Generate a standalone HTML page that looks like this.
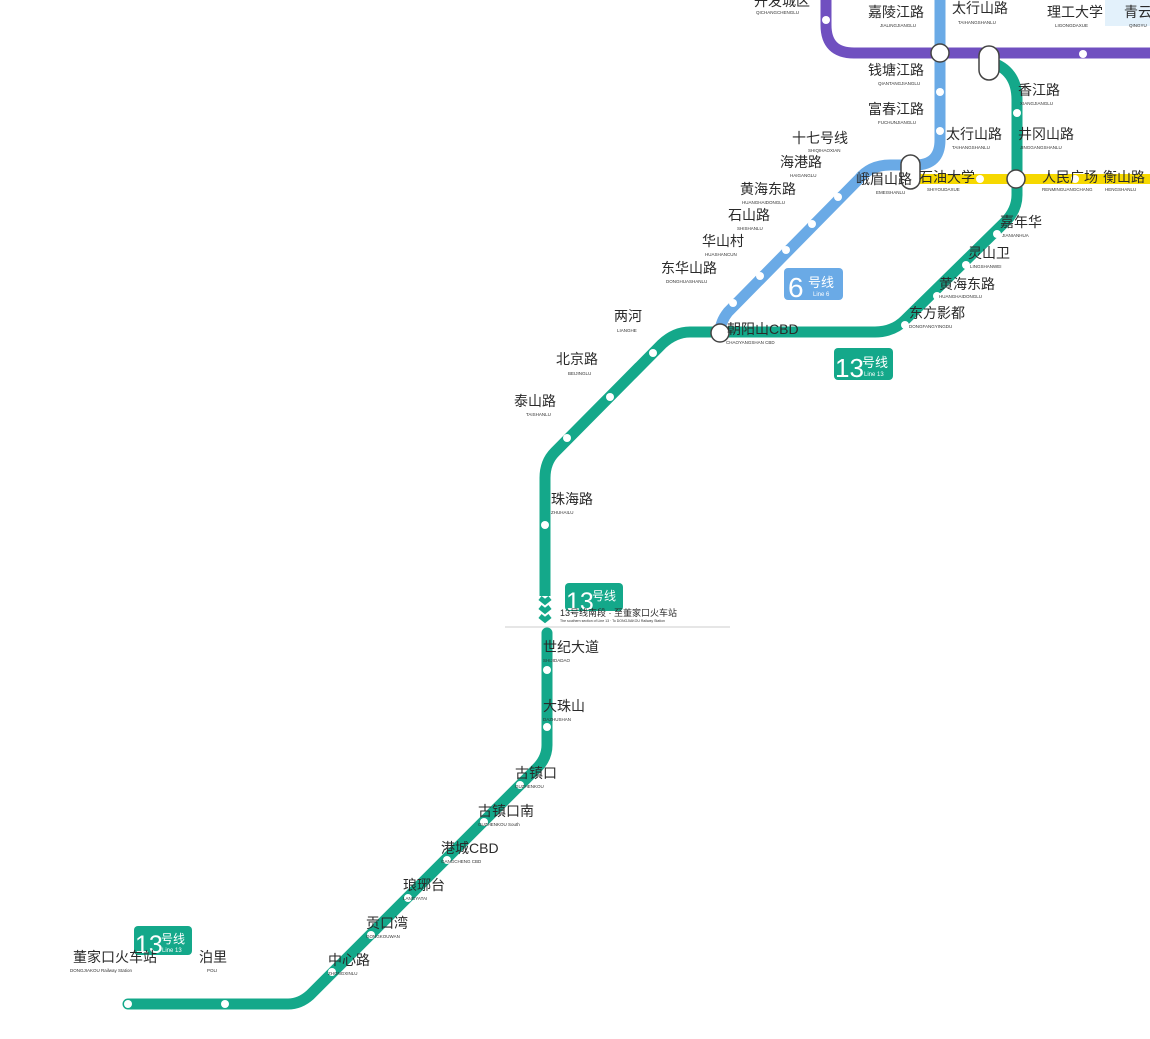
<!DOCTYPE html>
<html><head><meta charset="utf-8"><style>
html,body{margin:0;padding:0;background:#fff;width:1150px;height:1039px;overflow:hidden}
svg{display:block}
text{font-family:"Liberation Sans","Noto Sans CJK SC",sans-serif;fill:#2a2a2a}
.c{font-size:14px}
.p{font-size:4.5px;fill:#333}
.w{fill:#fff;stroke:none}
</style></head><body>
<svg width="1150" height="1039" viewBox="0 0 1150 1039" xmlns="http://www.w3.org/2000/svg">
<rect x="1105" y="0" width="45" height="26" fill="#e3f1fb"/>
<path d="M826 0 V25 Q826 53 854 53 H1150" stroke="#7050c0" stroke-width="11" fill="none"/>
<path d="M940 0 V140 Q940 165 915 165 H890 Q870 165 858 180 L728 312 Q720 322 720 333" stroke="#6aaae6" stroke-width="11" fill="none"/>
<path d="M912 179 H1150" stroke="#f6d800" stroke-width="10" fill="none"/>
<path d="M990 62 Q1017 70 1017 100 V195 Q1017 210 1005 222 L905 320 Q893 332 875 332 H690 Q675 332 662 344 L555 452 Q545 462 545 478 V596" stroke="#14a88a" stroke-width="11" fill="none"/>
<path d="M547 633 V745 Q547 758 537 768 L310 995 Q300 1004 288 1004 H128" stroke="#14a88a" stroke-width="11" fill="none" stroke-linecap="round"/>
<g stroke="#14a88a" stroke-width="5" fill="none">
<path d="M540 598 L545 602 L550 598"/><path d="M540 607 L545 611 L550 607"/><path d="M540 616 L545 620 L550 616"/>
</g>
<line x1="505" y1="627" x2="730" y2="627" stroke="#ccc" stroke-width="1"/>
<g class="w">
<circle cx="826" cy="20" r="4"/><circle cx="1083" cy="54" r="4"/>
<circle cx="940" cy="92" r="4"/><circle cx="940" cy="131" r="4"/>
<circle cx="838" cy="197" r="4"/><circle cx="812" cy="224" r="4"/><circle cx="786" cy="250" r="4"/><circle cx="760" cy="276" r="4"/><circle cx="733" cy="303" r="4"/>
<circle cx="980" cy="179" r="4"/><circle cx="1075" cy="179" r="4"/>
<circle cx="1017" cy="113" r="4"/>
<circle cx="997" cy="234" r="4"/><circle cx="966" cy="265" r="4"/><circle cx="937" cy="296" r="4"/><circle cx="905" cy="325" r="4"/>
<circle cx="653" cy="353" r="4"/><circle cx="610" cy="397" r="4"/><circle cx="567" cy="438" r="4"/>
<circle cx="545" cy="525" r="4"/>
<circle cx="547" cy="670" r="4"/><circle cx="547" cy="727" r="4"/>
<circle cx="520" cy="785" r="4"/><circle cx="484" cy="822" r="4"/><circle cx="447" cy="860" r="4"/><circle cx="408" cy="898" r="4"/><circle cx="371" cy="935" r="4"/><circle cx="332" cy="972" r="4"/>
<circle cx="225" cy="1004" r="4"/><circle cx="128" cy="1004" r="4"/>
</g>
<g fill="#fff" stroke="#444" stroke-width="1.5">
<circle cx="940" cy="53" r="9"/>
<rect x="979" y="46" width="20" height="34" rx="10"/>
<rect x="901" y="155" width="19" height="34" rx="9.5"/>
<circle cx="1016" cy="179" r="9"/>
<circle cx="720" cy="333" r="9"/>
</g>
<rect x="784" y="268" width="59" height="32" rx="4" fill="#6aaae6"/>
<text x="788" y="297" style="font-size:28px;fill:#fff">6</text><text x="808" y="287" style="font-size:13px;fill:#fff">号线</text><text x="813" y="296" style="font-size:6px;fill:#fff">Line 6</text>
<rect x="834" y="348" width="59" height="32" rx="4" fill="#14a88a"/>
<text x="835" y="377" style="font-size:26px;fill:#fff">13</text><text x="862" y="367" style="font-size:13px;fill:#fff">号线</text><text x="864" y="376" style="font-size:6px;fill:#fff">Line 13</text>
<rect x="565" y="583" width="58" height="28" rx="4" fill="#14a88a"/>
<text x="566" y="610" style="font-size:25px;fill:#fff">13</text><text x="592" y="600" style="font-size:12px;fill:#fff">号线</text>
<rect x="134" y="926" width="58" height="29" rx="4" fill="#14a88a"/>
<text x="135" y="953" style="font-size:25px;fill:#fff">13</text><text x="161" y="943" style="font-size:12px;fill:#fff">号线</text><text x="162" y="952" style="font-size:6px;fill:#fff">Line 13</text>
<text class="c" x="754" y="6">开发城区</text><text class="p" x="756" y="14">QICHANGCHENGLU</text>
<text class="c" x="868" y="17">嘉陵江路</text><text class="p" x="880" y="27">JIALINGJIANGLU</text>
<text class="c" x="952" y="13">太行山路</text><text class="p" x="958" y="24">TAIHANGSHANLU</text>
<text class="c" x="1047" y="17">理工大学</text><text class="p" x="1055" y="27">LIGONGDAXUE</text>
<text class="c" x="1124" y="17">青云</text><text class="p" x="1129" y="27">QINGYU</text>
<text class="c" x="868" y="75">钱塘江路</text><text class="p" x="878" y="85">QIANTANGJIANGLU</text>
<text class="c" x="868" y="114">富春江路</text><text class="p" x="878" y="124">FUCHUNJIANGLU</text>
<text class="c" x="946" y="139">太行山路</text><text class="p" x="952" y="149">TAIHANGSHANLU</text>
<text class="c" x="1018" y="95">香江路</text><text class="p" x="1020" y="105">XIANGJIANGLU</text>
<text class="c" x="1018" y="139">井冈山路</text><text class="p" x="1020" y="149">JINGGANGSHANLU</text>
<text class="c" x="792" y="143">十七号线</text><text class="p" x="808" y="152">SHIQIHAOXIAN</text>
<text class="c" x="780" y="167">海港路</text><text class="p" x="790" y="177">HAIGANGLU</text>
<text class="c" x="740" y="194">黄海东路</text><text class="p" x="742" y="204">HUANGHAIDONGLU</text>
<text class="c" x="728" y="220">石山路</text><text class="p" x="737" y="230">SHISHANLU</text>
<text class="c" x="702" y="246">华山村</text><text class="p" x="705" y="256">HUASHANCUN</text>
<text class="c" x="661" y="273">东华山路</text><text class="p" x="666" y="283">DONGHUASHANLU</text>
<text class="c" x="856" y="184">峨眉山路</text><text class="p" x="876" y="194">EMEISHANLU</text>
<text class="c" x="919" y="182">石油大学</text><text class="p" x="927" y="191">SHIYOUDAXUE</text>
<text class="c" x="1042" y="182">人民广场</text><text class="p" x="1042" y="191">RENMINGUANGCHANG</text>
<text class="c" x="1103" y="182">衡山路</text><text class="p" x="1105" y="191">HENGSHANLU</text>
<text class="c" x="1000" y="227">嘉年华</text><text class="p" x="1002" y="237">JIANIANHUA</text>
<text class="c" x="968" y="258">灵山卫</text><text class="p" x="970" y="268">LINGSHANWEI</text>
<text class="c" x="939" y="289">黄海东路</text><text class="p" x="939" y="298">HUANGHAIDONGLU</text>
<text class="c" x="909" y="318">东方影都</text><text class="p" x="909" y="328">DONGFANGYINGDU</text>
<text class="c" x="727" y="334">朝阳山CBD</text><text class="p" x="726" y="344">CHAOYANGSHAN CBD</text>
<text class="c" x="614" y="321">两河</text><text class="p" x="617" y="332">LIANGHE</text>
<text class="c" x="556" y="364">北京路</text><text class="p" x="568" y="375">BEIJINGLU</text>
<text class="c" x="514" y="406">泰山路</text><text class="p" x="526" y="416">TAISHANLU</text>
<text class="c" x="551" y="504">珠海路</text><text class="p" x="551" y="514">ZHUHAILU</text>
<text x="560" y="616" style="font-size:9px">13号线南段 · 至董家口火车站</text>
<text x="560" y="622" style="font-size:3.5px;fill:#333">The southern section of Line 13 · To DONGJIAKOU Railway Station</text>
<text class="c" x="543" y="652">世纪大道</text><text class="p" x="543" y="662">SHIJIDADAO</text>
<text class="c" x="543" y="711">大珠山</text><text class="p" x="543" y="721">DAZHUSHAN</text>
<text class="c" x="515" y="778">古镇口</text><text class="p" x="515" y="788">GUZHENKOU</text>
<text class="c" x="478" y="816">古镇口南</text><text class="p" x="478" y="826">GUZHENKOU South</text>
<text class="c" x="441" y="853">港城CBD</text><text class="p" x="441" y="863">GANGCHENG CBD</text>
<text class="c" x="403" y="890">琅琊台</text><text class="p" x="403" y="900">LANGYATAI</text>
<text class="c" x="366" y="928">贡口湾</text><text class="p" x="366" y="938">GONGKOUWAN</text>
<text class="c" x="328" y="965">中心路</text><text class="p" x="328" y="975">ZHONGXINLU</text>
<text class="c" x="73" y="962">董家口火车站</text><text class="p" x="70" y="972">DONGJIAKOU Railway Station</text>
<text class="c" x="199" y="962">泊里</text><text class="p" x="207" y="972">POLI</text>
</svg>
</body></html>
